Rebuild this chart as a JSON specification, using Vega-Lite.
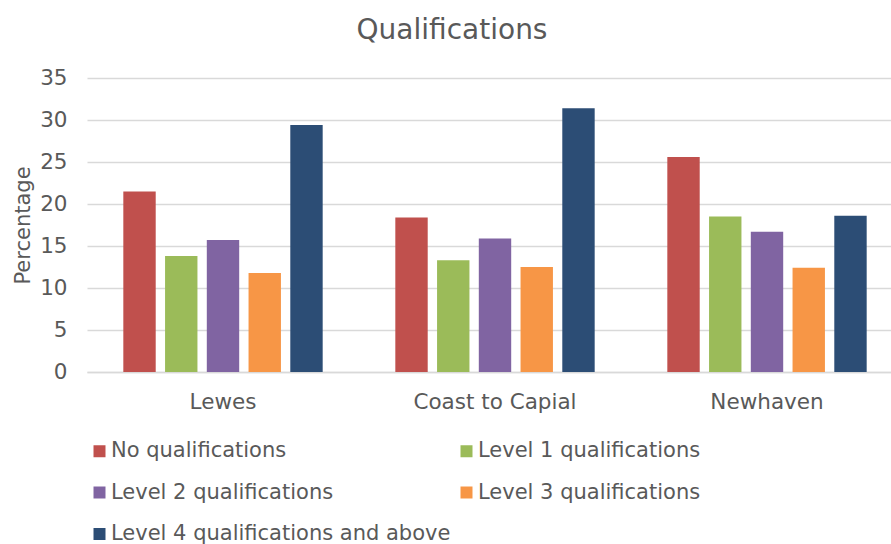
{
  "$schema": "https://vega.github.io/schema/vega-lite/v6.json",
  "autosize": {"type": "none"},
  "padding": {"left": 87, "top": 78, "right": 0, "bottom": 172},
  "width": 804,
  "height": 294,
  "background": "white",
  "config": {
    "font": "DejaVu Sans",
    "view": {"stroke": null}
  },
  "title": {
    "text": "Qualifications",
    "fontSize": 28,
    "fontWeight": "normal",
    "color": "#595959",
    "anchor": "middle",
    "frame": "group",
    "dx": -37,
    "offset": 22
  },
  "data": {
    "values": [
      {"area": "Lewes", "qualification": "No qualifications", "pct": 21.5},
      {"area": "Lewes", "qualification": "Level 1 qualifications", "pct": 13.8},
      {"area": "Lewes", "qualification": "Level 2 qualifications", "pct": 15.7},
      {"area": "Lewes", "qualification": "Level 3 qualifications", "pct": 11.8},
      {"area": "Lewes", "qualification": "Level 4 qualifications and above", "pct": 29.4},
      {"area": "Coast to Capial", "qualification": "No qualifications", "pct": 18.4},
      {"area": "Coast to Capial", "qualification": "Level 1 qualifications", "pct": 13.3},
      {"area": "Coast to Capial", "qualification": "Level 2 qualifications", "pct": 15.9},
      {"area": "Coast to Capial", "qualification": "Level 3 qualifications", "pct": 12.5},
      {"area": "Coast to Capial", "qualification": "Level 4 qualifications and above", "pct": 31.4},
      {"area": "Newhaven", "qualification": "No qualifications", "pct": 25.6},
      {"area": "Newhaven", "qualification": "Level 1 qualifications", "pct": 18.5},
      {"area": "Newhaven", "qualification": "Level 2 qualifications", "pct": 16.7},
      {"area": "Newhaven", "qualification": "Level 3 qualifications", "pct": 12.4},
      {"area": "Newhaven", "qualification": "Level 4 qualifications and above", "pct": 18.6}
    ]
  },
  "mark": {"type": "bar"},
  "encoding": {
    "x": {
      "field": "area",
      "type": "nominal",
      "sort": ["Lewes", "Coast to Capial", "Newhaven"],
      "scale": {"range": [0, 816], "paddingInner": 0, "paddingOuter": 0},
      "axis": {
        "title": null,
        "labelAngle": 0,
        "labelFontSize": 21.5,
        "labelColor": "#595959",
        "labelPadding": 19,
        "ticks": false,
        "domain": true,
        "domainColor": "#d9d9d9",
        "domainWidth": 1.5,
        "grid": false
      }
    },
    "xOffset": {
      "field": "qualification",
      "type": "nominal",
      "sort": [
        "No qualifications",
        "Level 1 qualifications",
        "Level 2 qualifications",
        "Level 3 qualifications",
        "Level 4 qualifications and above"
      ],
      "scale": {"paddingInner": 0.224, "paddingOuter": 0.87}
    },
    "y": {
      "field": "pct",
      "type": "quantitative",
      "scale": {"domain": [0, 35], "nice": false},
      "axis": {
        "title": "Percentage",
        "titleFontSize": 21,
        "titleFontWeight": "normal",
        "titleColor": "#595959",
        "titlePadding": 6,
        "values": [0, 5, 10, 15, 20, 25, 30, 35],
        "labelFontSize": 21.5,
        "labelColor": "#595959",
        "labelPadding": 20,
        "ticks": false,
        "domain": false,
        "gridColor": "#d9d9d9",
        "gridWidth": 1.4
      }
    },
    "color": {
      "field": "qualification",
      "type": "nominal",
      "sort": [
        "No qualifications",
        "Level 1 qualifications",
        "Level 2 qualifications",
        "Level 3 qualifications",
        "Level 4 qualifications and above"
      ],
      "scale": {
        "domain": [
          "No qualifications",
          "Level 1 qualifications",
          "Level 2 qualifications",
          "Level 3 qualifications",
          "Level 4 qualifications and above"
        ],
        "range": ["#C0504D", "#9BBB59", "#8064A2", "#F79646", "#2C4D75"]
      },
      "legend": {
        "title": null,
        "orient": "none",
        "legendX": 2,
        "legendY": 362.5,
        "direction": "horizontal",
        "columns": 2,
        "columnPadding": 5,
        "rowPadding": 19.5,
        "padding": 0,
        "symbolType": "square",
        "symbolSize": 144,
        "symbolStrokeWidth": 0,
        "symbolOpacity": 1,
        "labelFontSize": 21,
        "labelColor": "#595959",
        "labelOffset": 1,
        "labelLimit": 500
      }
    }
  }
}
